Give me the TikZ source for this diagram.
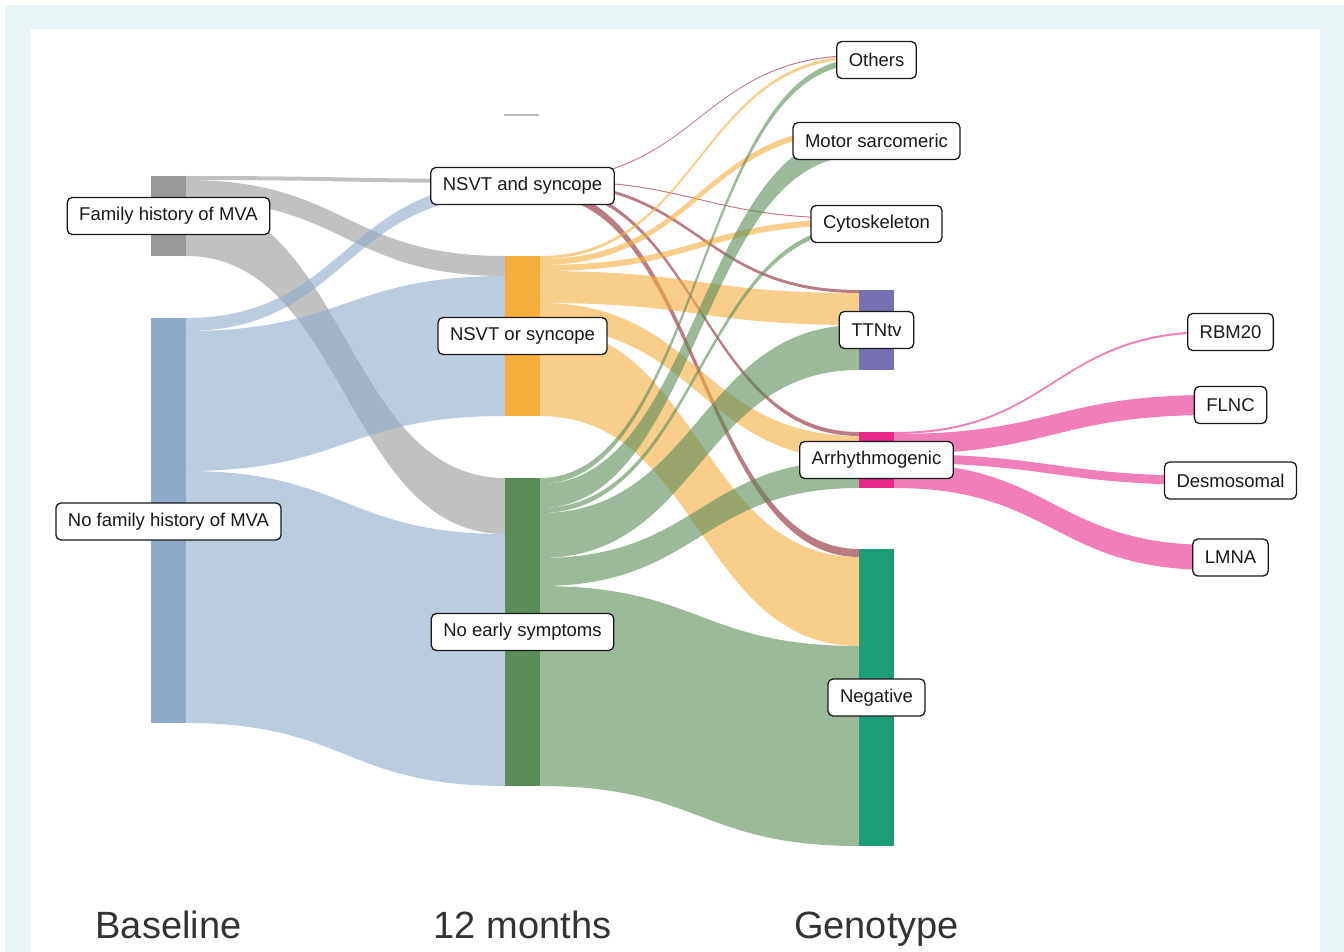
\documentclass[tikz,border=0pt]{standalone}
\usepackage{fontspec}
\setmainfont{Liberation Sans}
\usetikzlibrary{calc}
\definecolor{framec}{HTML}{E8F4F6}
\definecolor{famc}{HTML}{999999}
\definecolor{nofamc}{HTML}{8EAAC8}
\definecolor{nsc}{HTML}{8C2330}
\definecolor{norc}{HTML}{F5AD3D}
\definecolor{nec}{HTML}{5B8B58}
\definecolor{ttnc}{HTML}{7570B3}
\definecolor{arrc}{HTML}{E7298A}
\definecolor{negc}{HTML}{1B9E77}
\definecolor{strayc}{HTML}{BBBBBB}
\tikzset{
  bar/.style={rectangle, minimum width=35pt, inner sep=0pt, outer sep=0pt, draw=none},
  lbl/.style={draw=black!90, line width=1.3pt, rounded corners=5pt, fill=white,
    minimum height=37pt, inner xsep=12pt, inner ysep=0pt,
    font=\fontsize{18.5}{22}\selectfont, text=black!90},
  axislbl/.style={font=\fontsize{38}{44}\selectfont, text=black!80, anchor=base},
  flowfill/.style={fill=#1, fill opacity=0.6, draw=none},
}
\newcommand{\flow}[6]{%
  \path (#1.north east) ++(0,#2) coordinate (fs1) ++(0,#3) coordinate (fs2);
  \path (#4.north west) ++(0,#5) coordinate (ft1) ++(0,#3) coordinate (ft2);
  \path ($(fs1)!0.5!(ft1)$) coordinate (fm);
  \fill[flowfill=#6] (fs1) .. controls (fs1 -| fm) and (ft1 -| fm) .. (ft1) -- (ft2)
    .. controls (ft2 -| fm) and (fs2 -| fm) .. (fs2) -- cycle;
}
\begin{document}
\begin{tikzpicture}[x=1pt,y=-1pt]
\useasboundingbox (0,0) rectangle (1344,952);
\fill[white] (0,0) rectangle (1344,952);
\fill[framec] (5,5) rectangle (1344,952);
\fill[white] (30,29) rectangle (1320,952);

% bars: column 1
\node[bar, fill=famc, minimum height=80pt] (fam) at (168.5,216) {};
\node[bar, fill=nofamc, minimum height=405pt] (nofam) at (168.5,520.5) {};
% column 2
\node[bar, fill=nsc, minimum height=17pt] (ns) at (522.5,187.5) {};
\node[bar, fill=norc, minimum height=160pt] (nor) at (522.5,336) {};
\node[bar, fill=nec, minimum height=308pt] (ne) at (522.5,632) {};
\node[bar, fill=strayc, minimum height=1.5pt] (stray) at (521.5,115) {};
% column 3
\node[bar, fill=famc, minimum height=10pt] (oth) at (876.5,60) {};
\node[bar, fill=famc, minimum height=30pt] (mot) at (876.5,141) {};
\node[bar, fill=famc, minimum height=12pt] (cyt) at (876.5,224) {};
\node[bar, fill=ttnc, minimum height=80pt] (ttn) at (876.5,330) {};
\node[bar, fill=arrc, minimum height=56pt] (arr) at (876.5,460) {};
\node[bar, fill=negc, minimum height=297pt] (neg) at (876.5,697.5) {};
% column 4
\node[bar, fill=arrc, minimum height=2pt] (rbm) at (1230.5,332) {};
\node[bar, fill=arrc, minimum height=20pt] (flnc) at (1230.5,405) {};
\node[bar, fill=arrc, minimum height=9pt] (des) at (1230.5,480.5) {};
\node[bar, fill=arrc, minimum height=25pt] (lmna) at (1230.5,557.5) {};

% flows from family history
\flow{fam}{0}{4}{ns}{0}{famc}
\flow{fam}{4}{20}{nor}{0}{famc}
\flow{fam}{24}{56}{ne}{0}{famc}
% flows from no family history
\flow{nofam}{0}{13}{ns}{4}{nofamc}
\flow{nofam}{13}{140}{nor}{20}{nofamc}
\flow{nofam}{153}{252}{ne}{56}{nofamc}
% flows from NSVT and syncope
\flow{ns}{0}{1}{oth}{0}{nsc}
\flow{ns}{1}{1}{cyt}{0}{nsc}
\flow{ns}{2}{3}{ttn}{0}{nsc}
\flow{ns}{5}{4}{arr}{0}{nsc}
\flow{ns}{9}{8}{neg}{0}{nsc}
% flows from NSVT or syncope
\flow{nor}{0}{3}{oth}{1}{norc}
\flow{nor}{3}{6}{mot}{0}{norc}
\flow{nor}{9}{6}{cyt}{1}{norc}
\flow{nor}{15}{32}{ttn}{3}{norc}
\flow{nor}{47}{24}{arr}{4}{norc}
\flow{nor}{71}{89}{neg}{8}{norc}
% flows from no early symptoms
\flow{ne}{0}{6}{oth}{4}{nec}
\flow{ne}{6}{24}{mot}{6}{nec}
\flow{ne}{30}{5}{cyt}{7}{nec}
\flow{ne}{35}{45}{ttn}{35}{nec}
\flow{ne}{80}{28}{arr}{28}{nec}
\flow{ne}{108}{200}{neg}{97}{nec}
% flows from arrhythmogenic
\flow{arr}{0}{2}{rbm}{0}{arrc}
\flow{arr}{2}{20}{flnc}{0}{arrc}
\flow{arr}{22}{9}{des}{0}{arrc}
\flow{arr}{31}{25}{lmna}{0}{arrc}

% labels
\node[lbl] (famL) at (fam) {Family history of MVA};
\node[lbl] (nofamL) at (168.5,521.5) {No family history of MVA};
\node[lbl] (nsL) at (522.5,186) {NSVT and syncope};
\node[lbl] (norL) at (nor) {NSVT or syncope};
\node[lbl] (neL) at (ne) {No early symptoms};
\node[lbl] (othL) at (oth) {Others};
\node[lbl] (motL) at (mot) {Motor sarcomeric};
\node[lbl] (cytL) at (cyt) {Cytoskeleton};
\node[lbl] (ttnL) at (ttn) {TTNtv};
\node[lbl] (arrL) at (arr) {Arrhythmogenic};
\node[lbl] (negL) at (neg) {Negative};
\node[lbl] (rbmL) at (rbm) {RBM20};
\node[lbl] (flncL) at (flnc) {FLNC};
\node[lbl] (desL) at (des) {Desmosomal};
\node[lbl] (lmnaL) at (lmna) {LMNA};

% axis titles
\node[axislbl] (base) at (168.5,938) {Baseline};
\node[axislbl] (months) at (522.5,938) {12 months};
\node[axislbl] (geno) at (876.5,938) {Genotype};
\end{tikzpicture}
\end{document}
